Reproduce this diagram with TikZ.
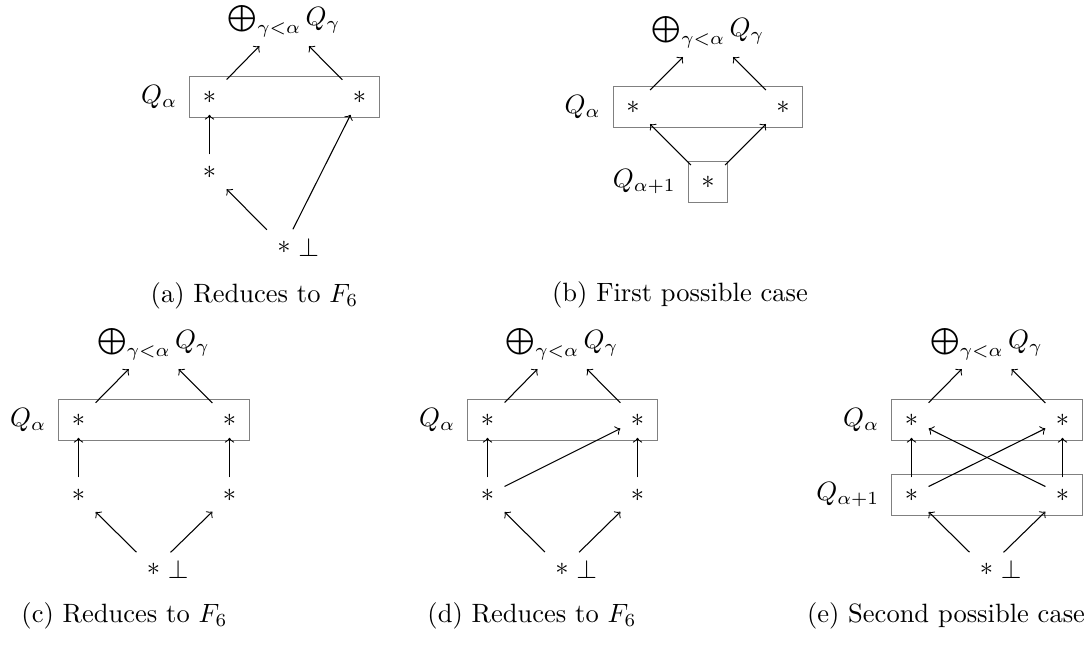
\documentclass[tikz,border=0pt]{standalone}
\usepackage{amsmath}
\usetikzlibrary{positioning,fit}

\begin{document}
\begin{tikzpicture}[x=0.01326cm, y=-0.01326cm,
        elt/.style={minimum width=12.5pt, minimum height=13pt, inner sep=0pt},
        layer/.style={draw=gray, inner sep=1pt},
        map/.style={->},
        mark bot/.style={inner sep=0pt},
        subcap/.style={font=\normalsize},
    ]
    \useasboundingbox (0,0) rectangle (1089,644);

    % (a) Reduces to F_6
    \node (sa) at (284,21) {$\bigoplus_{\gamma<\alpha} Q_\gamma$};
    \node[elt] (a1l) at (209.5,97) {$*$};
    \node[elt] (a1r) at (359.5,97) {$*$};
    \node[elt] (a2l) at (209.5,172) {$*$};
    \node[elt] (a3) at (284,247) {$*$};
    \node[mark bot, right=-1.25pt of a3] (a3b) {$\bot$};
    \node[layer, fit=(a1l) (a1r)] (boxa) {};
    \node[left=1pt of boxa] (qa) {$Q_\alpha$};
    \draw[map] (a1l) -- (sa);
    \draw[map] (a1r) -- (sa);
    \draw[map] (a2l) -- (a1l);
    \draw[map] (a3) -- (a2l);
    \draw[map] (a3) -- (a1r);
    \node[subcap] (capa) at (254.5,296) {(a) Reduces to $F_6$};

    % (b) First possible case
    \node (sb) at (708,32) {$\bigoplus_{\gamma<\alpha} Q_\gamma$};
    \node[elt] (b1l) at (633,107) {$*$};
    \node[elt] (b1r) at (783,107) {$*$};
    \node[elt] (b2) at (708,182) {$*$};
    \node[layer, fit=(b1l) (b1r)] (boxb) {};
    \node[layer, fit=(b2)] (boxb2) {};
    \node[left=1pt of boxb] (qb) {$Q_\alpha$};
    \node[left=1pt of boxb2] (qb2) {$Q_{\alpha+1}$};
    \draw[map] (b1l) -- (sb);
    \draw[map] (b1r) -- (sb);
    \draw[map] (b2) -- (b1l);
    \draw[map] (b2) -- (b1r);
    \node[subcap] (capb) at (680,295) {(b) First possible case};

    % (c) Reduces to F_6
    \node (sc) at (153.5,344) {$\bigoplus_{\gamma<\alpha} Q_\gamma$};
    \node[elt] (c1l) at (78.5,420) {$*$};
    \node[elt] (c1r) at (229.5,420) {$*$};
    \node[elt] (c2l) at (78.5,495) {$*$};
    \node[elt] (c2r) at (229.5,495) {$*$};
    \node[elt] (c3) at (153.5,569) {$*$};
    \node[mark bot, right=-1.25pt of c3] (c3b) {$\bot$};
    \node[layer, fit=(c1l) (c1r)] (boxc) {};
    \node[left=1pt of boxc] (qc) {$Q_\alpha$};
    \draw[map] (c1l) -- (sc);
    \draw[map] (c1r) -- (sc);
    \draw[map] (c2l) -- (c1l);
    \draw[map] (c2r) -- (c1r);
    \draw[map] (c3) -- (c2l);
    \draw[map] (c3) -- (c2r);
    \node[subcap] (capc) at (124.5,616) {(c) Reduces to $F_6$};

    % (d) Reduces to F_6
    \node (sd) at (562,344) {$\bigoplus_{\gamma<\alpha} Q_\gamma$};
    \node[elt] (d1l) at (487.5,420) {$*$};
    \node[elt] (d1r) at (637.5,420) {$*$};
    \node[elt] (d2l) at (487.5,495) {$*$};
    \node[elt] (d2r) at (637.5,495) {$*$};
    \node[elt] (d3) at (562,569) {$*$};
    \node[mark bot, right=-1.25pt of d3] (d3b) {$\bot$};
    \node[layer, fit=(d1l) (d1r)] (boxd) {};
    \node[left=1pt of boxd] (qd) {$Q_\alpha$};
    \draw[map] (d1l) -- (sd);
    \draw[map] (d1r) -- (sd);
    \draw[map] (d2l) -- (d1l);
    \draw[map] (d2r) -- (d1r);
    \draw[map] (d2l) -- (d1r);
    \draw[map] (d3) -- (d2l);
    \draw[map] (d3) -- (d2r);
    \node[subcap] (capd) at (532,616) {(d) Reduces to $F_6$};

    % (e) Second possible case
    \node (se) at (986.5,344) {$\bigoplus_{\gamma<\alpha} Q_\gamma$};
    \node[elt] (e1l) at (911.5,420) {$*$};
    \node[elt] (e1r) at (1062.5,420) {$*$};
    \node[elt] (e2l) at (911.5,495) {$*$};
    \node[elt] (e2r) at (1062.5,495) {$*$};
    \node[elt] (e3) at (986.5,569) {$*$};
    \node[mark bot, right=-1.25pt of e3] (e3b) {$\bot$};
    \node[layer, fit=(e1l) (e1r)] (boxe) {};
    \node[layer, fit=(e2l) (e2r)] (boxe2) {};
    \node[left=1pt of boxe] (qe) {$Q_\alpha$};
    \node[left=1pt of boxe2] (qe2) {$Q_{\alpha+1}$};
    \draw[map] (e1l) -- (se);
    \draw[map] (e1r) -- (se);
    \draw[map] (e2l) -- (e1l);
    \draw[map] (e2r) -- (e1r);
    \draw[map] (e2l) -- (e1r);
    \draw[map] (e2r) -- (e1l);
    \draw[map] (e3) -- (e2l);
    \draw[map] (e3) -- (e2r);
    \node[subcap] (cape) at (946,616) {(e) Second possible case};
\end{tikzpicture}
\end{document}
